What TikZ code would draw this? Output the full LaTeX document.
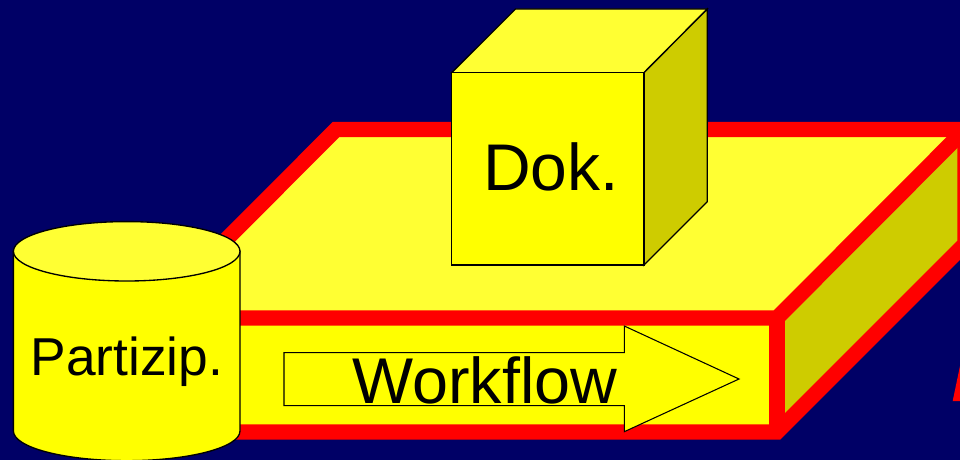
\documentclass[tikz,border=0pt]{standalone}
\usepackage{fontspec}
\setmainfont{Liberation Sans}
\definecolor{bgblau}{RGB}{0,0,102}
\definecolor{gelb}{RGB}{255,255,0}
\definecolor{hellgelb}{RGB}{255,255,51}
\definecolor{dunkelgelb}{RGB}{206,204,0}
\tikzset{
  kante/.style={draw=black, line width=1pt, line join=miter},
  rahmen/.style={draw=red, line width=11.5pt, line join=miter},
  schrift/.style={anchor=base, inner sep=0pt, text=black},
}
\begin{document}
\begin{tikzpicture}[x=0.75pt, y=0.75pt, yscale=-1, xscale=1]
% 背景
\fill [bgblau](0, 0) rectangle (960, 460);
\useasboundingbox (0, 0) rectangle (960, 460);
% 平板
\fill [hellgelb](148, 318) -- (336, 129.5) -- (965, 129.5) -- (777, 318) -- cycle;
\fill [dunkelgelb](777, 318) -- (965, 129.5) -- (965, 244) -- (777, 432) -- cycle;
\fill [gelb](148, 318) rectangle (777, 432);
\draw [rahmen](148, 318) -- (336, 129.5) -- (965, 129.5) -- (965, 244) -- (777, 432) -- (148, 432) -- cycle;
\draw [rahmen](148, 318) -- (777, 318) -- (965, 129.5);
\draw [rahmen](777, 318) -- (777, 432);
% 立方体
\draw [kante, fill=hellgelb](451.7, 72.7) -- (515.5, 9) -- (707.3, 9) -- (644, 72.7) -- cycle;
\draw [kante, fill=dunkelgelb](644, 72.7) -- (707.3, 9) -- (707.3, 201.7) -- (644, 265) -- cycle;
\draw [kante, fill=gelb](451.7, 72.7) rectangle (644, 265);
\node [schrift, font=\fontsize{49.5}{50}\selectfont] (dok) at (551, 190.7) {Dok.};
% 箭头
\draw [kante, line width=0.8pt, fill=gelb](284, 352.7) -- (624.3, 352.7) -- (624.3, 326) -- (739, 379) -- (624.3, 431.7) -- (624.3, 405.7) -- (284, 405.7) -- cycle;
\node [schrift, font=\fontsize{48.5}{50}\selectfont] (workflow) at (484.7, 403.3) {Workflow};
% 圆柱
\draw [kante, fill=gelb](13.4, 251.3) -- (13.4, 431) arc(180:0:113.3 and 29.7) -- (240, 251.3) -- cycle;
\draw [kante, fill=hellgelb](126.7, 251.3) ellipse (113.3 and 29.7);
\node [schrift, font=\fontsize{40}{42}\selectfont] (partizip) at (127, 375) {Partizip.};
% 右边残字
\fill [red](952.7, 401) -- (960, 366) -- (960, 401) -- cycle;
\end{tikzpicture}
\end{document}
